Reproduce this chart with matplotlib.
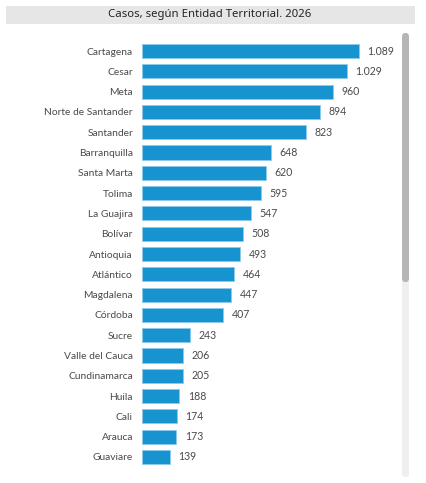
import matplotlib
matplotlib.use('Agg')
import matplotlib.pyplot as plt
from matplotlib.patches import FancyBboxPatch, Rectangle

# data
entidades = ['Cartagena', 'Cesar', 'Meta', 'Norte de Santander', 'Santander',
             'Barranquilla', 'Santa Marta', 'Tolima', 'La Guajira', 'Bolívar',
             'Antioquia', 'Atlántico', 'Magdalena', 'Córdoba', 'Sucre',
             'Valle del Cauca', 'Cundinamarca', 'Huila', 'Cali', 'Arauca', 'Guaviare']
casos = [1089, 1029, 960, 894, 823, 648, 620, 595, 547, 508, 493, 464, 447,
         407, 243, 206, 205, 188, 174, 173, 139]
titulo = 'Casos, según Entidad Territorial. 2026'

W, H = 427, 483
bar_color = '#1793cf'
text_color = '#4a4a4a'
plt.rcParams['font.family'] = ['Lato', 'DejaVu Sans']

fig = plt.figure(figsize=(W / 100, H / 100), dpi=100)
fig.patch.set_facecolor('white')

# title band
fig.patches.append(Rectangle((6 / W, 1 - 24 / H), 409 / W, 18 / H,
                             transform=fig.transFigure, facecolor='#e6e6e6',
                             edgecolor='none'))
fig.text(210 / W, 1 - 15 / H, titulo, ha='center', va='center',
         fontsize=8.2, color='#252423', fontweight='semibold',
         family=['Noto Sans', 'DejaVu Sans'])

# scrollbar
fig.patches.append(FancyBboxPatch((402 / W, 1 - 477 / H), 7 / W, 444 / H,
                                  boxstyle='round,pad=0,rounding_size=0.008',
                                  transform=fig.transFigure, facecolor='#efefef',
                                  edgecolor='none'))
fig.patches.append(FancyBboxPatch((402 / W, 1 - 282 / H), 7 / W, 249 / H,
                                  boxstyle='round,pad=0,rounding_size=0.008',
                                  transform=fig.transFigure, facecolor='#b5b5b5',
                                  edgecolor='none'))

# bar area
left, width = 142, 250
top, bottom = 40.85, 467.15
ax = fig.add_axes([left / W, 1 - bottom / H, width / W, (bottom - top) / H])
px_per_unit = 217 / 1089
ax.set_xlim(0, width / px_per_unit)
n = len(entidades)
ax.set_ylim(n - 0.5, -0.5)

ypos = list(range(n))
ax.barh(ypos, casos, height=0.69, color=bar_color, edgecolor='#8ccbec',
        linewidth=0.6)
for y, v in zip(ypos, casos):
    ax.annotate(f'{v:,}'.replace(',', '.'), (v, y), xytext=(6, 0),
                textcoords='offset points', ha='left', va='center',
                fontsize=7.6, color=text_color)

ax.set_yticks(ypos)
ax.set_yticklabels(entidades, fontsize=7.4, color=text_color)
ax.tick_params(axis='y', length=0, pad=6.5)
ax.set_xticks([])
for s in ax.spines.values():
    s.set_visible(False)

fig.savefig('out.png', dpi=100)
